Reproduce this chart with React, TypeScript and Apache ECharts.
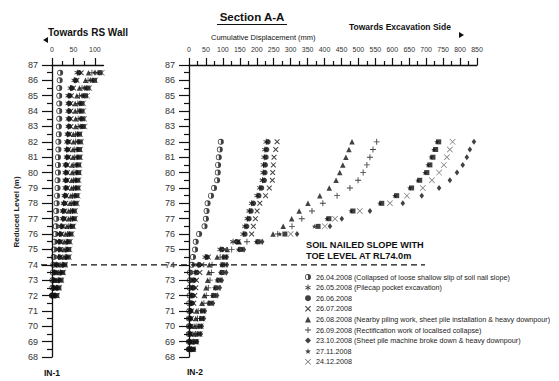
import React, { useEffect, useRef } from "react";
import * as echarts from "echarts";

const FONT = "'Liberation Sans', Arial, Helvetica, sans-serif";

// Reading labels (legend)
const READINGS = [
  "26.04.2008 (Collapsed of loose shallow slip of soil nail slope)",
  "26.05.2008 (Pilecap pocket excavation)",
  "26.06.2008",
  "26.07.2008",
  "26.08.2008 (Nearby piling work, sheet pile installation & heavy downpour)",
  "26.09.2008 (Rectification work of localised collapse)",
  "23.10.2008 (Sheet pile machine broke down & heavy downpour)",
  "27.11.2008",
  "24.12.2008",
  "23.01.2009",
];

// Reduced levels (m)
const IN1_LEVELS = [86.5, 86, 85.5, 85, 84.5, 84, 83.5, 83, 82.5, 82, 81.5, 81, 80.5, 80, 79.5, 79, 78.5, 78, 77.5, 77, 76.5, 76, 75.5, 75, 74.5, 74, 73.5, 73, 72.5, 72];
const IN2_LEVELS = [82, 81.5, 81, 80.5, 80, 79.5, 79, 78.5, 78, 77.5, 77, 76.5, 76, 75.5, 75, 74.5, 74, 73.5, 73, 72.5, 72, 71.5, 71, 70.5, 70, 69.5, 69, 68.5];

// IN-1 cumulative displacement (mm)
const IN1_S1 = [19, 18, 17, 17, 17, 17, 17, 16, 16, 15, 15, 14, 14, 14, 13, 13, 12, 11, 10, 10, 9, 8, 6, 5, 4, 3, 2, 1, 1, 0];
const IN1_S2 = [59, 52, 43, 38, 38, 38, 38, 38, 36, 35, 34, 34, 31, 31, 31, 31, 29, 27, 25, 25, 21, 18, 16, 16, 16, 10, 6, 3, 3, 0];
const IN1_S3 = [63, 55, 46, 41, 40, 40, 40, 40, 38, 37, 36, 36, 33, 33, 33, 33, 31, 29, 27, 27, 23, 20, 18, 18, 18, 12, 8, 5, 4, 1];
const IN1_S4 = [68, 58, 50, 45, 44, 44, 44, 44, 41, 40, 39, 39, 36, 36, 36, 36, 34, 32, 30, 30, 26, 23, 21, 20, 20, 14, 10, 7, 6, 2];
const IN1_S5 = [85, 78, 64, 58, 54, 54, 55, 55, 50, 50, 49, 49, 47, 47, 46, 46, 44, 42, 39, 39, 35, 32, 29, 28, 28, 21, 16, 12, 9, 5];
const IN1_S6 = [93, 84, 70, 64, 60, 60, 61, 61, 55, 55, 53, 53, 51, 51, 50, 50, 48, 46, 43, 43, 39, 36, 33, 32, 31, 24, 19, 15, 11, 7];
const IN1_S7 = [100, 90, 76, 70, 64, 64, 66, 66, 59, 60, 58, 58, 56, 56, 54, 54, 52, 50, 47, 47, 43, 40, 36, 35, 34, 27, 21, 17, 13, 8];
const IN1_S8 = [107, 95, 80, 74, 67, 67, 69, 70, 62, 63, 61, 61, 59, 59, 57, 57, 55, 53, 50, 50, 46, 42, 38, 37, 36, 28, 23, 19, 14, 9];
const IN1_S9 = [116, 101, 87, 82, 73, 73, 75, 76, 66, 68, 66, 66, 64, 64, 62, 62, 60, 58, 54, 54, 50, 46, 42, 41, 40, 31, 26, 22, 17, 12];
const IN1_S10 = [112, 99, 84, 78, 70, 70, 72, 73, 64, 66, 64, 64, 62, 62, 60, 60, 58, 56, 52, 52, 48, 44, 40, 39, 38, 30, 25, 21, 16, 11];

// IN-2 cumulative displacement (mm)
const IN2_S1 = [94, 91, 88, 86, 85, 83, 74, 65, 55, 52, 50, 46, 30, 20, 18, 12, 9, 3, 3, 2, 2, 1, 1, 0, 0, 0, 0, 0];
const IN2_S2 = [228, 224, 222, 220, 219, 217, 209, 201, 185, 178, 172, 165, 160, 130, 92, 48, 27, 18, 12, 10, 8, 6, 3, 2, 2, 1, 1, 0];
const IN2_S3 = [233, 229, 227, 225, 224, 222, 214, 206, 190, 183, 177, 170, 165, 141, 97, 53, 30, 22, 15, 13, 11, 9, 5, 4, 4, 3, 2, 1];
const IN2_S4 = [260, 256, 251, 249, 247, 246, 237, 226, 209, 201, 196, 190, 185, 145, 106, 57, 38, 32, 22, 20, 17, 14, 8, 7, 6, 5, 4, 2];
const IN2_S5 = [481, 472, 463, 454, 445, 434, 414, 386, 351, 325, 303, 278, 248, 148, 113, 83, 60, 58, 55, 50, 45, 38, 22, 20, 17, 15, 10, 6];
const IN2_S6 = [554, 543, 534, 525, 514, 499, 475, 437, 395, 363, 333, 304, 262, 171, 126, 92, 68, 66, 62, 57, 51, 44, 27, 25, 21, 19, 13, 8];
const IN2_S7 = [841, 829, 820, 808, 791, 770, 738, 687, 631, 534, 451, 416, 319, 216, 162, 112, 112, 110, 97, 91, 83, 71, 47, 44, 38, 35, 24, 15];
const IN2_S8 = [731, 722, 714, 705, 696, 675, 651, 607, 563, 478, 407, 370, 268, 198, 145, 100, 95, 92, 82, 75, 68, 57, 36, 33, 28, 25, 17, 10];
const IN2_S9 = [778, 770, 761, 752, 738, 717, 690, 643, 593, 504, 431, 401, 300, 210, 157, 108, 106, 104, 92, 86, 78, 66, 43, 40, 35, 32, 22, 13];
const IN2_S10 = [737, 728, 720, 711, 702, 681, 657, 613, 569, 484, 413, 381, 283, 204, 152, 105, 100, 98, 88, 80, 73, 62, 40, 37, 32, 29, 20, 12];

const IN1_TICKS = [0, 50, 100];
const IN1_MINOR = [25, 75];

const IN1_DATA = [IN1_S1, IN1_S2, IN1_S3, IN1_S4, IN1_S5, IN1_S6, IN1_S7, IN1_S8, IN1_S9, IN1_S10];
const IN2_DATA = [IN2_S1, IN2_S2, IN2_S3, IN2_S4, IN2_S5, IN2_S6, IN2_S7, IN2_S8, IN2_S9, IN2_S10];

const HALF = "path://M0,-10A10,10 0 0,1 0,10Z M0,-10A10,10 0 0,0 0,10L0,7.6A7.6,7.6 0 0,1 0,-7.6Z";
const ASTER = "path://M-1.5,-10L1.5,-10L1.5,10L-1.5,10Z M7.91,-6.3L9.41,-3.7L-7.91,6.3L-9.41,3.7Z M-9.41,-3.7L-7.91,-6.3L9.41,3.7L7.91,6.3Z";
const CROSS = "path://M6.01,-8.13L8.13,-6.01L-6.01,8.13L-8.13,6.01Z M-8.13,-6.01L-6.01,-8.13L8.13,6.01L6.01,8.13Z";
const THINX = "path://M6.51,-7.64L7.64,-6.51L-6.51,7.64L-7.64,6.51Z M-7.64,-6.51L-6.51,-7.64L7.64,6.51L6.51,7.64Z";
const PLUS = "path://M-1.5,-10H1.5V-1.5H10V1.5H1.5V10H-1.5V1.5H-10V-1.5H-1.5Z";
const STAR = "path://M0,-10L2.35,-3.24L9.51,-3.09L3.8,1.24L5.88,8.09L0,4L-5.88,8.09L-3.8,1.24L-9.51,-3.09L-2.35,-3.24Z";

const SYMBOLS: any[] = [
  { symbol: HALF, size: 6, color: "#111" },
  { symbol: ASTER, size: 6, color: "#111" },
  { symbol: "circle", size: 5.5, color: "#111" },
  { symbol: CROSS, size: 5.5, color: "#111" },
  { symbol: "triangle", size: 5.5, color: "#111" },
  { symbol: PLUS, size: 6, color: "#111" },
  { symbol: "diamond", size: [4.5, 6], color: "#111" },
  { symbol: STAR, size: 5, color: "#111" },
  { symbol: THINX, size: 6, color: "#444" },
  { symbol: "rect", size: 5, color: "#111" },
];

export default function App() {
  const ref = useRef<HTMLDivElement>(null);

  useEffect(() => {
    document.body.style.margin = "0";
    const chart = echarts.init(ref.current as HTMLDivElement, null, { renderer: "svg" });

    const yAx = (gi: number) => ({
      type: "value",
      gridIndex: gi,
      min: 68,
      max: 87,
      interval: 1,
      axisLine: { show: true, lineStyle: { color: "#111", width: 1.3 } },
      axisTick: { show: true, length: 10, lineStyle: { color: "#111", width: 1.2 } },
      minorTick: { show: true, splitNumber: 2, length: 5, lineStyle: { color: "#111", width: 1.2 } },
      axisLabel: { fontSize: 9, color: "#333", margin: 14, fontFamily: FONT },
      splitLine: { show: false },
      minorSplitLine: { show: false },
    });

    const series: any[] = [];
    READINGS.forEach((name, i) => {
      const s = SYMBOLS[i];
      series.push({
        type: "scatter",
        name,
        xAxisIndex: 0,
        yAxisIndex: 0,
        symbol: s.symbol,
        symbolSize: s.size,
        itemStyle: { color: s.color },
        data: IN1_DATA[i].map((v, k) => [v, IN1_LEVELS[k]]),
        silent: true,
      });
      series.push({
        type: "scatter",
        name,
        xAxisIndex: 2,
        yAxisIndex: 1,
        symbol: s.symbol,
        symbolSize: s.size,
        itemStyle: { color: s.color },
        data: IN2_DATA[i].map((v, k) => [v, IN2_LEVELS[k]]),
        silent: true,
      });
    });

    const option: any = {
      animation: false,
      backgroundColor: "#fff",
      textStyle: { fontFamily: FONT },
      grid: [
        { left: 52, top: 65, width: 51.5, height: 292 },
        { left: 189, top: 65, width: 288, height: 292 },
      ],
      xAxis: [
        {
          type: "value",
          gridIndex: 0,
          position: "top",
          min: 0,
          max: 120,
          axisLine: { show: true, lineStyle: { color: "#111", width: 1.3 } },
          axisTick: { show: true, length: 7, customValues: IN1_TICKS, lineStyle: { color: "#111", width: 1.2 } },
          axisLabel: { fontSize: 7, color: "#333", margin: 12, customValues: IN1_TICKS, fontFamily: FONT },
          splitLine: { show: false },
        },
        {
          type: "value",
          gridIndex: 0,
          position: "top",
          min: 0,
          max: 120,
          axisLine: { show: false },
          axisTick: { show: true, length: 4, customValues: IN1_MINOR, lineStyle: { color: "#111", width: 1.2 } },
          axisLabel: { show: false },
          splitLine: { show: false },
        },
        {
          type: "value",
          gridIndex: 1,
          position: "top",
          min: 0,
          max: 850,
          interval: 50,
          axisLine: { show: true, lineStyle: { color: "#111", width: 1.3 } },
          axisTick: { show: true, length: 7, lineStyle: { color: "#111", width: 1.2 } },
          minorTick: { show: true, splitNumber: 2, length: 4, lineStyle: { color: "#111", width: 1.2 } },
          axisLabel: { fontSize: 7, color: "#333", margin: 12, fontFamily: FONT },
          splitLine: { show: false },
          minorSplitLine: { show: false },
        },
      ],
      yAxis: [yAx(0), yAx(1)],
      legend: {
        orient: "vertical",
        left: 300,
        top: 268,
        padding: 5,
        itemWidth: 6,
        itemHeight: 6,
        itemGap: 2.6,
        selectedMode: false,
        data: READINGS.slice(0, 9),
        textStyle: { fontSize: 7.2, color: "#222", fontFamily: FONT, lineHeight: 8 },
      },
      series,
    };
    chart.setOption(option);

    const p0 = chart.convertToPixel({ gridIndex: 0 }, [0, 74]) as number[];
    const y74 = p0[1];
    const tri = (pts: number[][]) => ({ type: "polygon", shape: { points: pts }, style: { fill: "#111" } });
    const txt = (x: number, y: number, text: string, size: number, bold: boolean, extra: any = {}) => ({
      type: "text",
      x,
      y,
      ...extra,
      style: {
        text,
        fontSize: size,
        fontWeight: bold ? "bold" : "normal",
        fontFamily: FONT,
        fill: "#111",
        verticalAlign: "middle",
        align: extra.align || "left",
      },
    });

    chart.setOption({
      graphic: [
        {
          type: "line",
          shape: { x1: p0[0] - 11, y1: y74, x2: 425, y2: y74 },
          style: { stroke: "#111", lineWidth: 1.2, lineDash: [6, 4] },
          silent: true,
        },
        txt(252, 17, "Section A-A", 11.5, true, { align: "center" }),
        { type: "line", shape: { x1: 217, y1: 24.5, x2: 287, y2: 24.5 }, style: { stroke: "#111", lineWidth: 1 } },
        txt(48, 32, "Towards RS Wall", 10, true),
        tri([[43, 40], [48, 37], [48, 43]]),
        txt(211, 37, "Cumulative Displacement (mm)", 7.5, false),
        txt(349, 27, "Towards Excavation Side", 8.5, true),
        tri([[459, 32], [464, 35], [459, 38]]),
        {
          type: "text",
          x: 16,
          y: 212,
          rotation: Math.PI / 2,
          style: { text: "Reduced Level (m)", fontSize: 8, fontWeight: "bold", fontFamily: FONT, fill: "#222", align: "center", verticalAlign: "middle" },
        },
        txt(306, 245, "SOIL NAILED SLOPE WITH", 9.2, true),
        txt(306, 256, "TOE LEVEL AT RL74.0m", 9.2, true),
        txt(44, 373, "IN-1", 8.5, true),
        txt(187, 372, "IN-2", 8.5, true),
      ],
    });

    return () => chart.dispose();
  }, []);

  return <div ref={ref} style={{ width: 559, height: 381 }} />;
}
